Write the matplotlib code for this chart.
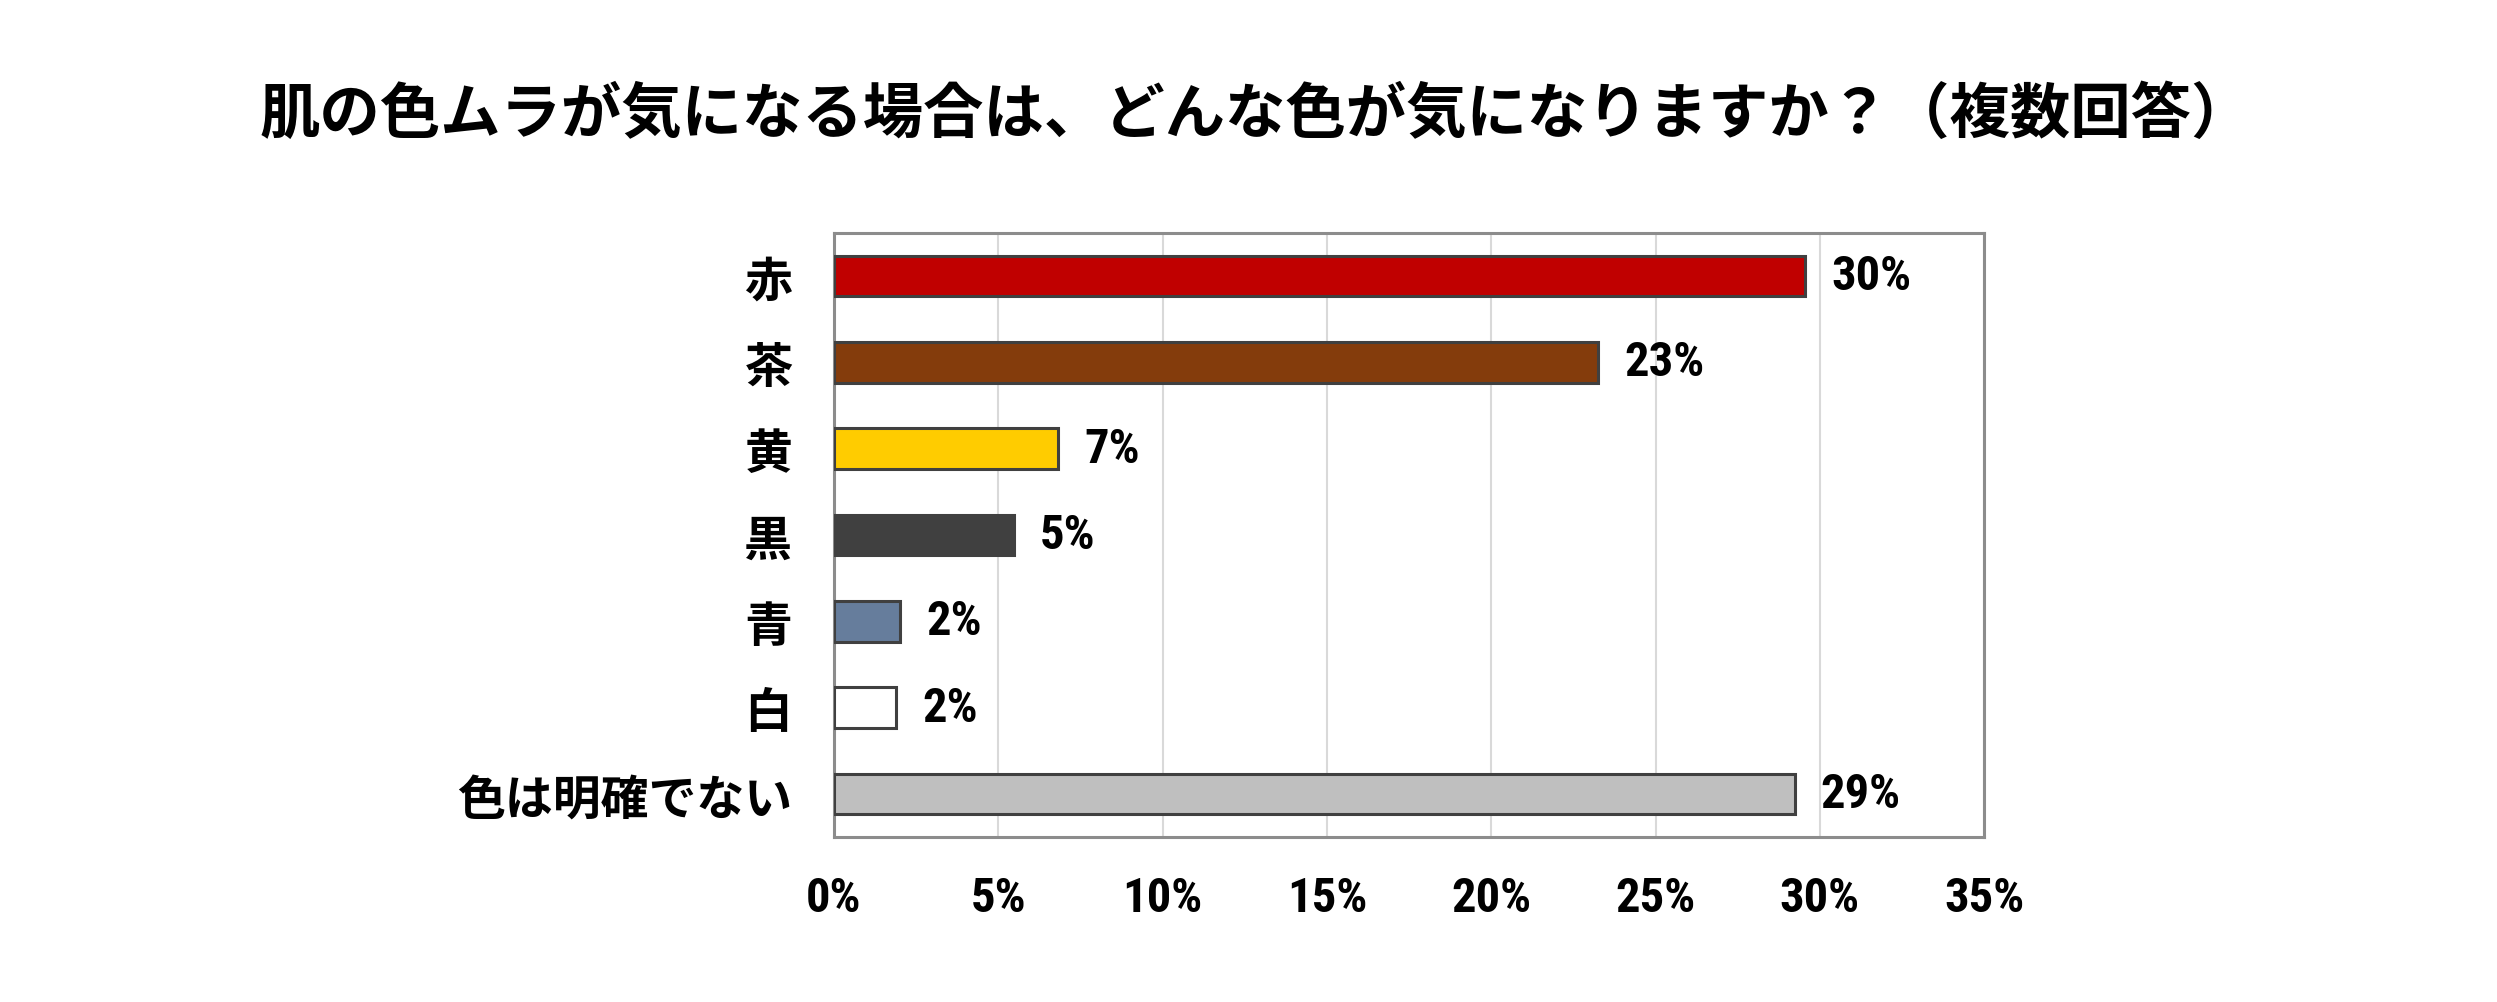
#coding=utf-8

import numpy as np
import matplotlib
matplotlib.use("Agg")
import matplotlib.pyplot as plt

# データ
categories = ["赤", "茶", "黄", "黒", "青", "白", "色は明確でない"]
values = [29.55, 23.24, 6.82, 5.47, 2.0, 1.88, 29.23]
value_labels = ["30%", "23%", "7%", "5%", "2%", "2%", "29%"]
bar_colors = ["#C00000", "#843C0C", "#FFCC00", "#404040", "#667D9C", "#FFFFFF", "#BFBFBF"]
x_ticks = [0, 5, 10, 15, 20, 25, 30, 35]
title = "肌の色ムラが気になる場合は、どんな色が気になりますか？（複数回答）"

jp = ["Noto Sans CJK JP", "DejaVu Sans"]
num = ["Roboto Condensed", "Liberation Sans Narrow", "Roboto", "DejaVu Sans"]


def main():
    plt.rcParams["font.family"] = jp
    fig = plt.figure(figsize=(24.97, 10.03), dpi=100)
    ax = fig.add_axes([0.334, 0.1645, 0.4606, 0.6022])

    y = np.arange(len(categories))
    ax.barh(y, values, height=0.47, color=bar_colors,
            edgecolor="#404040", linewidth=2.2, zorder=3)

    for yi, v, lab in zip(y, values, value_labels):
        ax.text(v + 0.8, yi, lab, va="center", ha="left",
                fontsize=35, fontweight="bold", family=num, color="black")

    ax.set_xlim(0, 35)
    ax.set_ylim(len(categories) - 0.5, -0.5)
    ax.set_xticks(x_ticks)
    ax.set_xticklabels(["%d%%" % t for t in x_ticks], fontsize=35,
                       fontweight="bold", family=num)
    ax.set_yticks(y)
    ax.set_yticklabels(categories, fontsize=34.5, fontweight="bold")
    ax.tick_params(axis="both", length=0)
    ax.tick_params(axis="x", pad=27)
    ax.tick_params(axis="y", pad=30)

    ax.grid(axis="x", color="#D9D9D9", linewidth=1.5, zorder=0)
    for s in ax.spines.values():
        s.set_color("#8C8C8C")
        s.set_linewidth(2.2)

    fig.text(0.503, 0.885, title, ha="center", va="center",
             fontsize=43.5, fontweight="bold")

    fig.savefig("out.png", dpi=100, facecolor="white")


if __name__ == '__main__':
    main()
